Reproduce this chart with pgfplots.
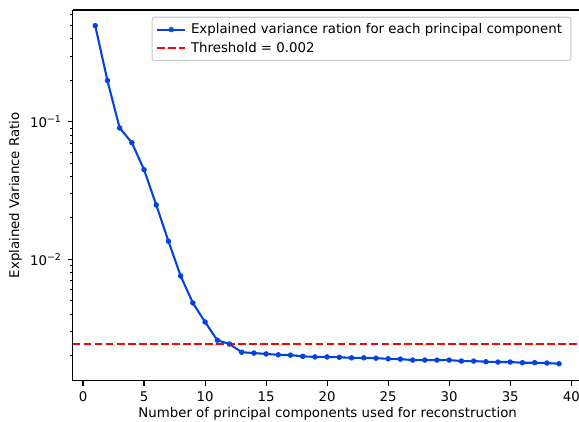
\documentclass[border=0pt]{standalone}
\usepackage{pgfplots}
\pgfplotsset{compat=1.18}
\usepackage{fontspec}
\setmainfont{DejaVu Sans}

\definecolor{lineblue}{RGB}{3,67,223}
\definecolor{legframe}{RGB}{204,204,204}

% explained variance ratio of each principal component
\pgfplotstableread{
k ratio
1 0.499
2 0.199
3 0.0900
4 0.0704
5 0.0448
6 0.0248
7 0.01352
8 0.00756
9 0.00481
10 0.00350
11 0.00258
12 0.00242
13 0.00211
14 0.00208
15 0.00205
16 0.00202
17 0.00201
18 0.00197
19 0.00195
20 0.00195
21 0.00194
22 0.00192
23 0.00192
24 0.00191
25 0.00189
26 0.00188
27 0.00185
28 0.00185
29 0.00185
30 0.00185
31 0.00182
32 0.00182
33 0.00180
34 0.00179
35 0.00179
36 0.00177
37 0.00177
38 0.00176
39 0.00174
}\ratios

\newcommand\figfont{\fontsize{9.6}{11.5}\selectfont}

\begin{document}
\begin{tikzpicture}[x=1pt,y=1pt]
\begin{axis}[
  at={(0,0)}, anchor=south west,
  scale only axis,
  width=364.3pt, height=266.9pt,
  ymode=log,
  xmin=-0.85, xmax=40.6,
  ymin=0.00131, ymax=0.648,
  axis x line*=box, axis y line*=left,
  xtick pos=left, ytick pos=left,
  axis line style={line width=0.8pt, black},
  tick align=outside,
  tick style={black, line width=0.8pt},
  major tick length=3.5pt,
  minor tick length=2pt,
  minor tick style={line width=0.6pt},
  xtick={0,5,...,40},
  ytick={0.01,0.1},
  yticklabels={10\textsuperscript{−2},10\textsuperscript{−1}},
  minor ytick={0.002,0.003,0.004,0.005,0.006,0.007,0.008,0.009,
               0.02,0.03,0.04,0.05,0.06,0.07,0.08,0.09,
               0.2,0.3,0.4,0.5,0.6},
  /pgf/number format/assume math mode=true,
  ticklabel style={font=\figfont},
  xticklabel style={yshift=-1pt},
  yticklabel style={xshift=-1pt},
  label style={font=\figfont},
  xlabel={Number of principal components used for reconstruction},
  ylabel={Explained Variance Ratio},
  xlabel style={at={(axis description cs:0.504,0)}, anchor=north, yshift=-16pt},
  ylabel style={at={(axis description cs:0,0.5)}, anchor=south, yshift=33pt},
  legend cell align=left,
  legend style={
    at={(axis description cs:0.986,0.982)}, anchor=north east,
    draw=legframe, rounded corners=2pt, line width=0.8pt,
    fill=white, fill opacity=0.8, text opacity=1,
    font=\figfont,
    inner xsep=3pt, inner ysep=3pt,
    row sep=1.6pt,
    nodes={inner xsep=3.5pt, inner ysep=1.5pt},
  },
  legend image code/.code={
    \draw[#1, mark repeat=2, mark phase=2]
      plot coordinates {(0pt,0pt) (10pt,0pt) (20pt,0pt)};
  },
]
\addplot[color=lineblue, line width=1.5pt, mark=*, mark size=1.7pt,
  mark options={solid, fill=lineblue, draw=lineblue, line width=0.5pt}]
  table[x=k, y=ratio] {\ratios};
\addlegendentry{Explained variance ration for each principal component}

\addplot[color=red, line width=1.5pt, dash pattern=on 5.55pt off 2.4pt]
  coordinates {(-0.85,0.00242) (40.6,0.00242)};
\addlegendentry{Threshold = 0.002}
\end{axis}
\pgfresetboundingbox
\useasboundingbox (-52.3pt,-29.7pt) rectangle (364.6pt,274.1pt);
\end{tikzpicture}
\end{document}
